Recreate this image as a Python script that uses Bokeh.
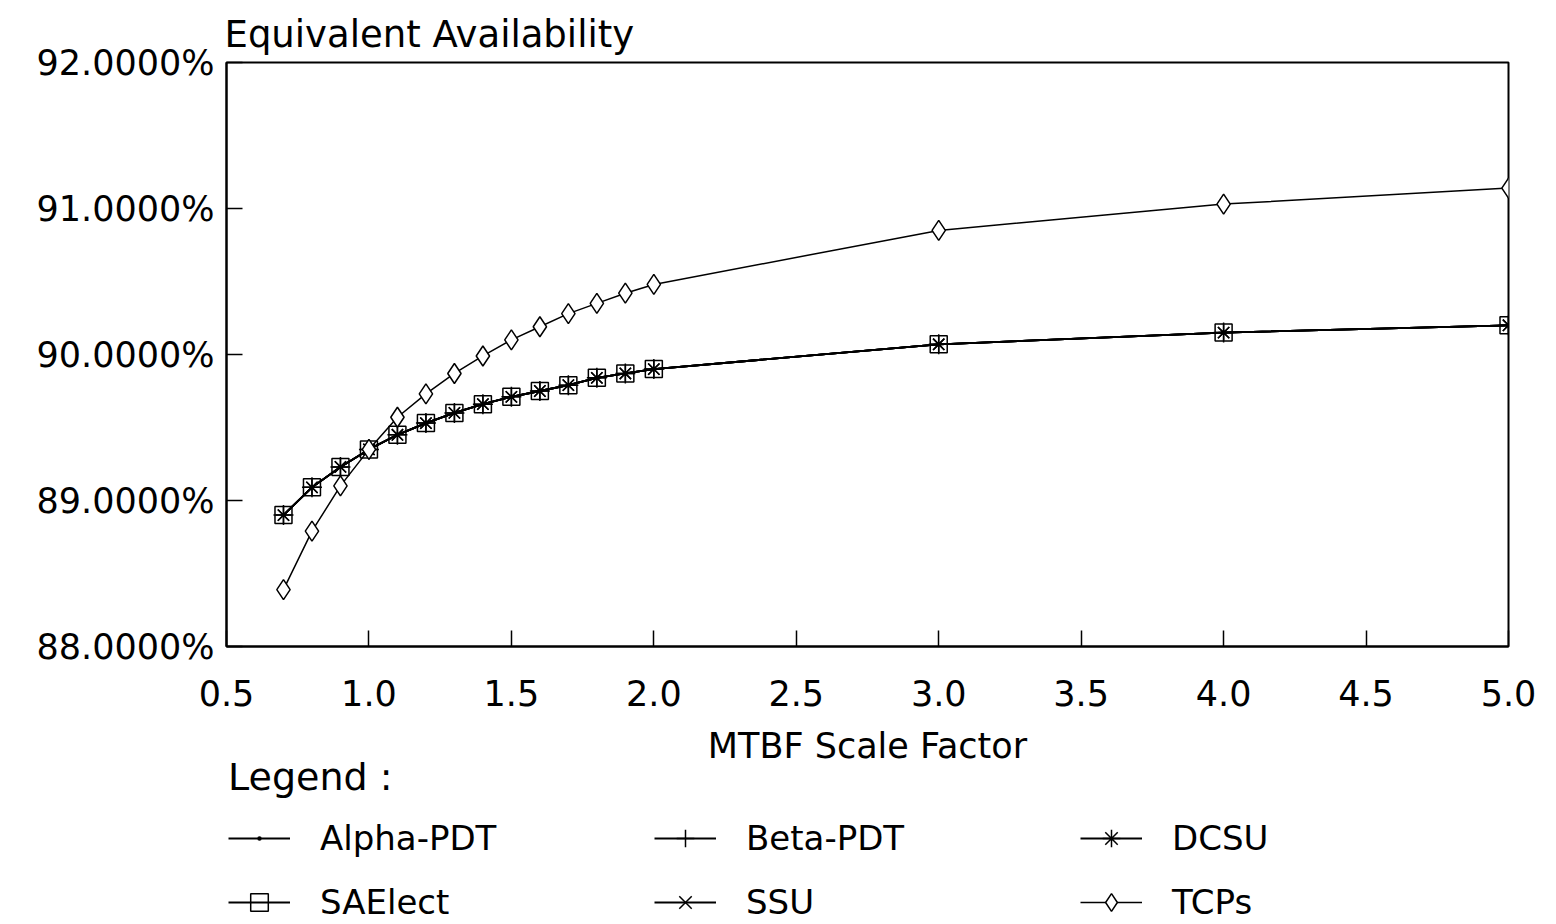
from bokeh.plotting import figure
from bokeh.layouts import column
from bokeh.models import (FixedTicker, PrintfTickFormatter, NumeralTickFormatter,
                          Legend, LegendItem, Range1d, Label)
from bokeh.embed import file_html
from bokeh.resources import INLINE

# ---- data ----
mtbf_scale = [0.7, 0.8, 0.9, 1.0, 1.1, 1.2, 1.3, 1.4, 1.5, 1.6, 1.7, 1.8, 1.9, 2.0, 3.0, 4.0, 5.0]

alpha_pdt = [88.90, 89.09, 89.23, 89.35, 89.45, 89.53, 89.60, 89.66, 89.71, 89.75, 89.79, 89.84, 89.87, 89.90, 90.07, 90.15, 90.20]
beta_pdt  = [88.90, 89.09, 89.23, 89.35, 89.45, 89.53, 89.60, 89.66, 89.71, 89.75, 89.79, 89.84, 89.87, 89.90, 90.07, 90.15, 90.20]
dcsu      = [88.90, 89.09, 89.23, 89.35, 89.45, 89.53, 89.60, 89.66, 89.71, 89.75, 89.79, 89.84, 89.87, 89.90, 90.07, 90.15, 90.20]
saelect   = [88.90, 89.09, 89.23, 89.35, 89.45, 89.53, 89.60, 89.66, 89.71, 89.75, 89.79, 89.84, 89.87, 89.90, 90.07, 90.15, 90.20]
ssu       = [88.90, 89.09, 89.23, 89.35, 89.45, 89.53, 89.60, 89.66, 89.71, 89.75, 89.79, 89.84, 89.87, 89.90, 90.07, 90.15, 90.20]
tcps      = [88.39, 88.79, 89.10, 89.35, 89.57, 89.73, 89.87, 89.99, 90.10, 90.19, 90.28, 90.35, 90.42, 90.48, 90.85, 91.03, 91.14]

x_ticks = [0.5, 1.0, 1.5, 2.0, 2.5, 3.0, 3.5, 4.0, 4.5, 5.0]
y_ticks = [88, 89, 90, 91, 92]

series_names = ["Alpha-PDT", "Beta-PDT", "DCSU", "SAElect", "SSU", "TCPs"]
legend_order = ["Alpha-PDT", "SAElect", "Beta-PDT", "SSU", "DCSU", "TCPs"]  # column-major fill

FONT = "DejaVu Sans"
W = 1556
H_MAIN = 724
H_LEG = 200

p1 = figure(width=W, height=H_MAIN, output_backend="svg", toolbar_location=None,
            x_range=Range1d(0.5, 5.0), y_range=Range1d(88, 92),
            min_border_left=226, min_border_right=48, min_border_top=62,
            min_border_bottom=78)

p1.background_fill_color = "white"
p1.border_fill_color = "white"
p1.outline_line_color = "black"
p1.outline_line_width = 2
p1.xgrid.visible = False
p1.ygrid.visible = False

p1.title.text = "Equivalent Availability"
p1.title.text_font = FONT
p1.title.text_font_size = "37px"
p1.title.text_font_style = "normal"
p1.title.text_color = "black"
p1.title.align = "left"
p1.title.vertical_align = "top"
p1.title.offset = -2
p1.title.standoff = 10

for ax in (p1.xaxis[0], p1.yaxis[0]):
    ax.axis_line_color = "black"
    ax.axis_line_width = 2
    ax.major_tick_line_color = "black"
    ax.major_tick_line_width = 1.5
    ax.major_tick_in = 16
    ax.major_tick_out = 0
    ax.minor_tick_line_color = None
    ax.major_label_text_font = FONT
    ax.major_label_text_font_size = "35px"
    ax.major_label_text_color = "black"

p1.xaxis[0].ticker = FixedTicker(ticks=x_ticks)
p1.xaxis[0].formatter = NumeralTickFormatter(format="0.0")
p1.xaxis[0].major_label_standoff = 33

p1.yaxis[0].ticker = FixedTicker(ticks=y_ticks)
p1.yaxis[0].formatter = PrintfTickFormatter(format="%.4f%%")
p1.yaxis[0].major_label_standoff = 12

styles = {
    "Alpha-PDT": dict(marker="dot", size=18, fill_color="black", fill_alpha=1.0, lw=1.8),
    "Beta-PDT":  dict(marker="cross", size=20, fill_color=None, fill_alpha=0.0, lw=1.8),
    "DCSU":      dict(marker="asterisk", size=16, fill_color=None, fill_alpha=0.0, lw=1.8),
    "SAElect":   dict(marker="square", size=17, fill_color=None, fill_alpha=0.0, lw=1.8),
    "SSU":       dict(marker="x", size=16, fill_color=None, fill_alpha=0.0, lw=1.8),
    "TCPs":      dict(marker="diamond", size=20, fill_color="white", fill_alpha=1.0, lw=1.5),
}
values = {"Alpha-PDT": alpha_pdt, "Beta-PDT": beta_pdt, "DCSU": dcsu,
          "SAElect": saelect, "SSU": ssu, "TCPs": tcps}


def add_series(fig, name):
    st = styles[name]
    lr = fig.line(mtbf_scale, values[name], line_color="black", line_width=st["lw"])
    sr = fig.scatter(mtbf_scale, values[name], marker=st["marker"], size=st["size"],
                     line_color="black", line_width=1.5,
                     fill_color=st["fill_color"], fill_alpha=st["fill_alpha"])
    return lr, sr


for name in series_names:
    add_series(p1, name)

# ---- lower panel: x-axis title and legend (its frame is aligned with the plot's frame) ----
p2 = figure(width=W, height=H_LEG, output_backend="svg", toolbar_location=None,
            x_range=Range1d(100, 101), y_range=Range1d(100, 101),
            min_border=0, x_axis_location=None, y_axis_location=None)
p2.outline_line_color = None
p2.xgrid.visible = False
p2.ygrid.visible = False
p2.background_fill_color = "white"
p2.border_fill_color = "white"

p2.add_layout(Label(x=641, y=H_LEG - 21, x_units="screen", y_units="screen",
                    text="MTBF Scale Factor", text_font=FONT, text_font_size="35px",
                    text_color="black", text_align="center", text_baseline="middle"))

rend = {name: add_series(p2, name) for name in series_names}
items = [LegendItem(label=name, renderers=list(rend[name])) for name in legend_order]

legend = Legend(items=items, ncols=3, location=(2, 0),
                title="Legend :", title_text_font=FONT, title_text_font_size="38px",
                title_text_font_style="normal", title_text_color="black",
                title_standoff=17,
                label_text_font=FONT, label_text_font_size="34px", label_text_color="black",
                label_standoff=30, label_width=314, label_height=44,
                glyph_width=62, glyph_height=44, spacing=20,
                padding=0, margin=0,
                border_line_color=None, background_fill_alpha=0.0)
p2.add_layout(legend, "center")

layout = column(p1, p2, spacing=0)
open("out.html", "w").write(file_html(layout, INLINE))
